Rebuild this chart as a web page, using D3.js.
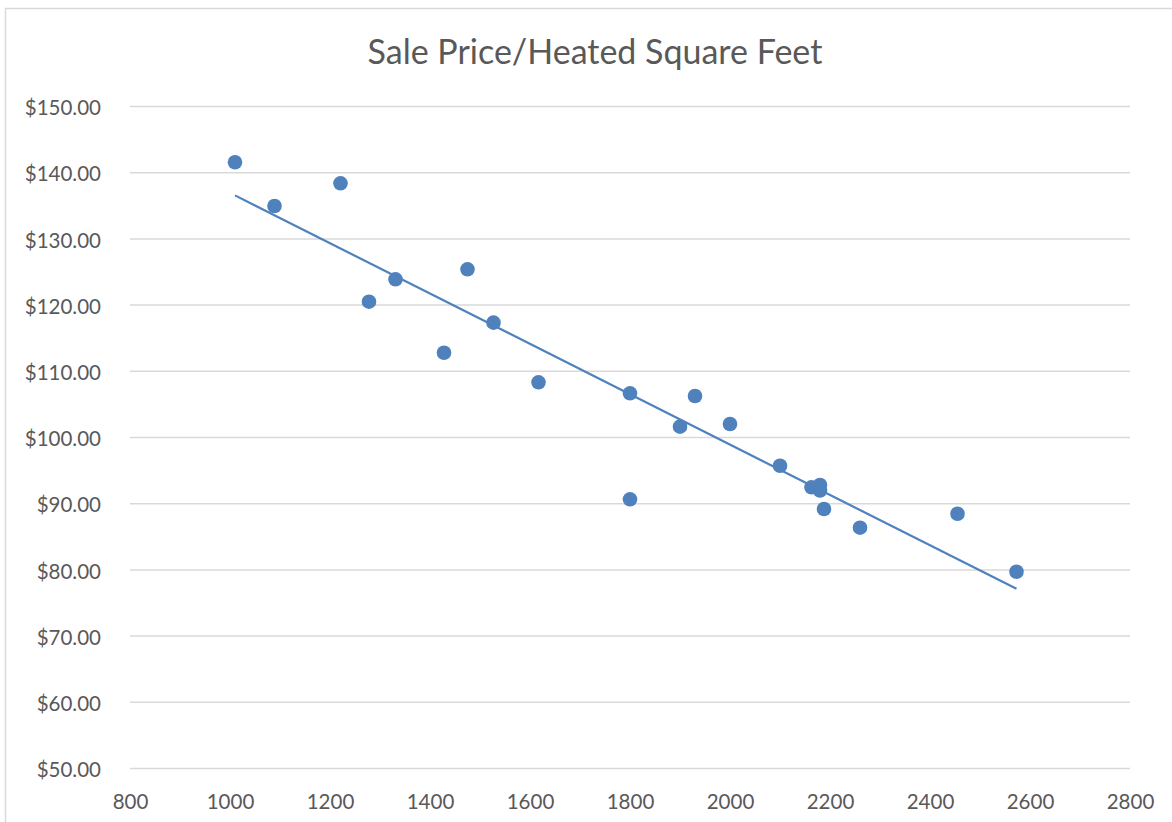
<!DOCTYPE html>
<html>
<head>
<meta charset="utf-8">
<script src="https://cdn.jsdelivr.net/npm/d3@7"></script>
<style>
  body { margin: 0; background: #fff; }
  text { font-family: Lato, "Open Sans", sans-serif; fill: #595959; }
</style>
</head>
<body>
<svg width="1172" height="822"></svg>
<script>
// heated square feet
var sqft = [1010, 1089, 1221, 1331, 1278, 1475, 1527, 1428, 1617, 1800, 1930,
            1900, 2000, 1800, 2100, 2163, 2180, 2180, 2188, 2260, 2455, 2573];
// sale price per heated square foot
var pricePerSqft = [141.50, 134.89, 138.32, 123.82, 120.44, 125.33, 117.27, 112.73, 108.26, 106.60, 106.19,
                    101.56, 101.96, 90.59, 95.66, 92.40, 92.75, 91.92, 89.12, 86.30, 88.41, 79.65];
var xTicks = [800, 1000, 1200, 1400, 1600, 1800, 2000, 2200, 2400, 2600, 2800];
var yTicks = [50, 60, 70, 80, 90, 100, 110, 120, 130, 140, 150];
var title = "Sale Price/Heated Square Feet";

var data = sqft.map(function(d, i) { return {x: d, y: pricePerSqft[i]} });

var x = d3.scaleLinear().domain([800, 2800]).range([130, 1130]);
var y = d3.scaleLinear().domain([50, 150]).range([768, 106]);

var svg = d3.select("svg");
var blue = "#4f81bd";

// chart frame (only top and left edges are inside the picture)
svg.append("rect")
    .attr("x", 5.5).attr("y", 8.5)
    .attr("width", 1300).attr("height", 1000)
    .attr("fill", "none")
    .attr("stroke", "#d9d9d9")
    .attr("stroke-width", 1.5);

svg.append("text")
    .attr("x", 595).attr("y", 64)
    .attr("text-anchor", "middle")
    .style("font-size", "34px")
    .text(title);

// y axis: gridlines + labels
var leftAxis = d3.axisLeft(y)
    .tickValues(yTicks)
    .tickSize(-(1130 - 130))
    .tickPadding(29)
    .tickFormat(function(d) { return "$" + d3.format(".2f")(d) });
var gy = svg.append("g")
    .attr("transform", "translate(130,0)")
    .call(leftAxis);
gy.select(".domain").remove();
gy.selectAll("line").attr("stroke", "#d9d9d9").attr("stroke-width", 1.5);
gy.selectAll("text")
    .attr("fill", "#595959")
    .attr("dy", "0.42em")
    .style("font-size", "20.5px")
    .style("font-family", "Lato, sans-serif");

// x axis: labels only
var bottomAxis = d3.axisBottom(x)
    .tickValues(xTicks)
    .tickSize(0)
    .tickPadding(26)
    .tickFormat(d3.format("d"));
var gx = svg.append("g")
    .attr("transform", "translate(0,768)")
    .call(bottomAxis);
gx.select(".domain").remove();
gx.selectAll("text")
    .attr("fill", "#595959")
    .style("font-size", "20.5px")
    .style("font-family", "Lato, sans-serif");

// linear trendline (least squares)
var mx = d3.mean(data, function(d) { return d.x }),
    my = d3.mean(data, function(d) { return d.y });
var sxy = d3.sum(data, function(d) { return (d.x - mx) * (d.y - my) }),
    sxx = d3.sum(data, function(d) { return (d.x - mx) * (d.x - mx) });
var slope = sxy / sxx, intercept = my - slope * mx;
var ext = d3.extent(data, function(d) { return d.x });
svg.append("line")
    .attr("x1", x(ext[0])).attr("y1", y(intercept + slope * ext[0]))
    .attr("x2", x(ext[1])).attr("y2", y(intercept + slope * ext[1]))
    .attr("stroke", blue)
    .attr("stroke-width", 2.2);

svg.selectAll(".dot")
    .data(data).enter()
    .append("circle")
    .attr("class", "dot")
    .attr("cx", function(d) { return x(d.x) })
    .attr("cy", function(d) { return y(d.y) })
    .attr("r", 7.3)
    .attr("fill", blue);
</script>
</body>
</html>
